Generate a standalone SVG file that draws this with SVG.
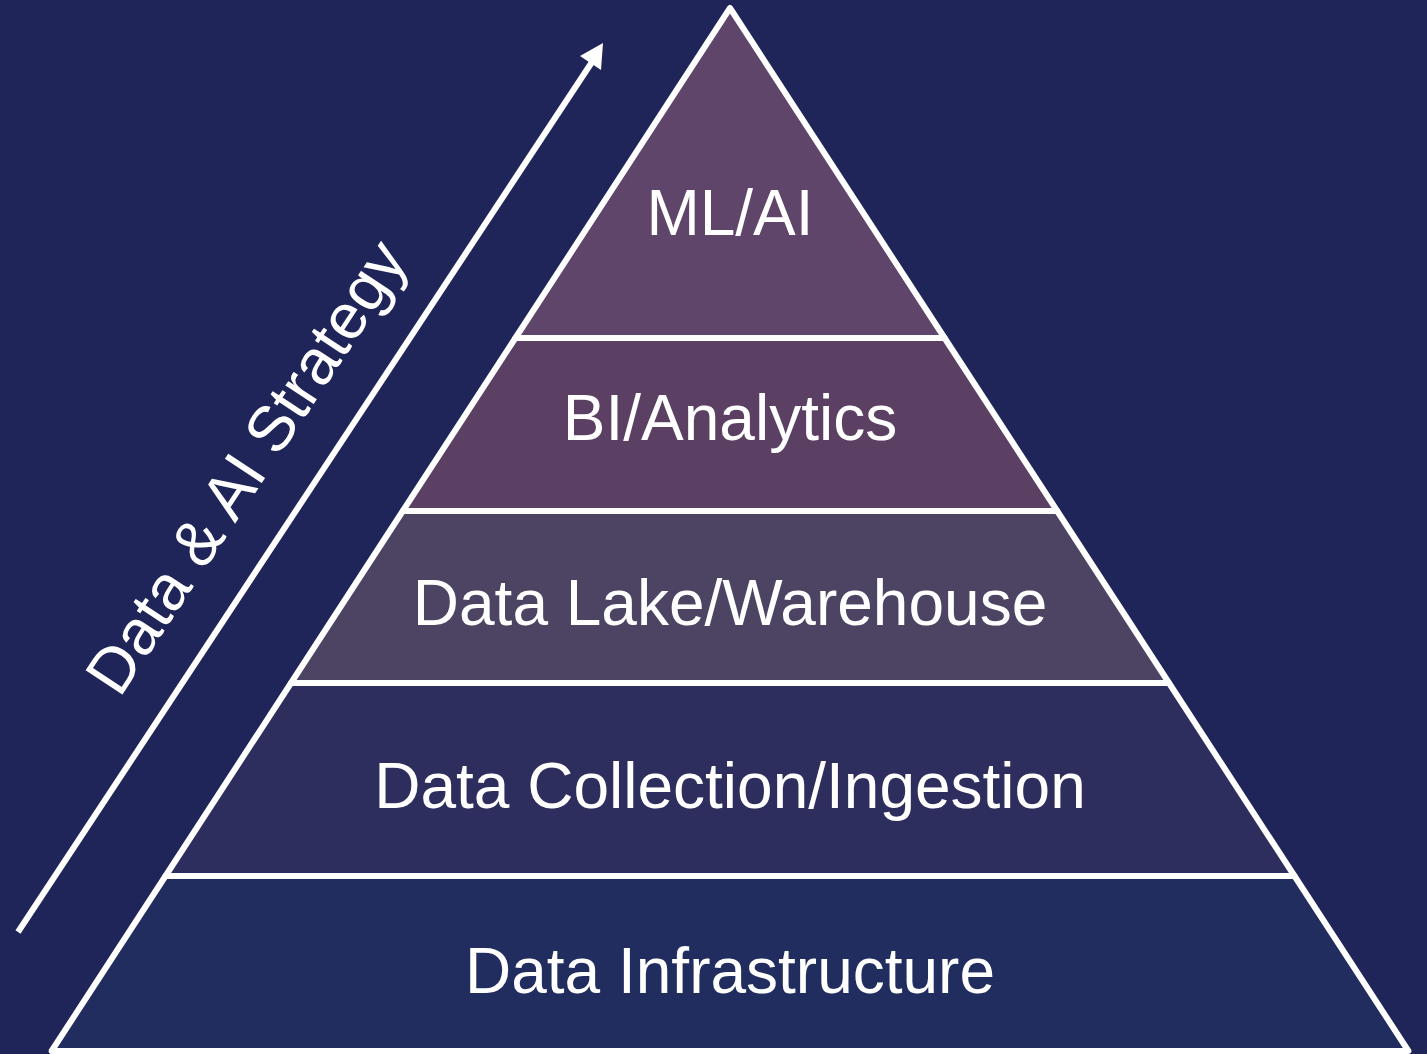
<svg xmlns="http://www.w3.org/2000/svg" width="1427" height="1054" viewBox="0 0 1427 1054">
<style>
.layer{stroke:#ffffff;stroke-width:6;stroke-linejoin:round}
.lbl{font-family:"Liberation Sans",Arial,sans-serif;font-size:64px;fill:#ffffff;text-anchor:middle}
</style>
<rect width="1427" height="1054" fill="#1f2558"/>
<g id="connectors">
<line x1="18" y1="932" x2="592" y2="62" stroke="#ffffff" stroke-width="6"/>
<polygon points="603,43 580,56 601,70" fill="#ffffff"/>
</g>
<g id="strategy-label">
<text class="lbl" style="font-size:64px" transform="translate(246,467) rotate(-56.6)" x="0" y="22">Data &amp; AI Strategy</text>
</g>
<g id="layer-infrastructure">
<polygon class="layer" points="165.5,876 1294.5,876 1408.4,1051 51.6,1051" fill="#202d5e"/>
<text class="lbl" x="730" y="993">Data Infrastructure</text>
</g>
<g id="layer-collection">
<polygon class="layer" points="291,683 1169,683 1294.5,876 165.5,876" fill="#2e2e5e"/>
<text class="lbl" x="730" y="808">Data Collection/Ingestion</text>
</g>
<g id="layer-lake">
<polygon class="layer" points="402.8,511 1057.2,511 1169,683 291,683" fill="#4d4464"/>
<text class="lbl" x="730" y="625">Data Lake/Warehouse</text>
</g>
<g id="layer-bi">
<polygon class="layer" points="515.4,338 944.6,338 1057.2,511 402.8,511" fill="#5c4064"/>
<text class="lbl" x="730" y="440">BI/Analytics</text>
</g>
<g id="layer-ml">
<polygon class="layer" points="730,8 944.6,338 515.4,338" fill="#5f4569"/>
<text class="lbl" x="730" y="235">ML/AI</text>
</g>
</svg>
